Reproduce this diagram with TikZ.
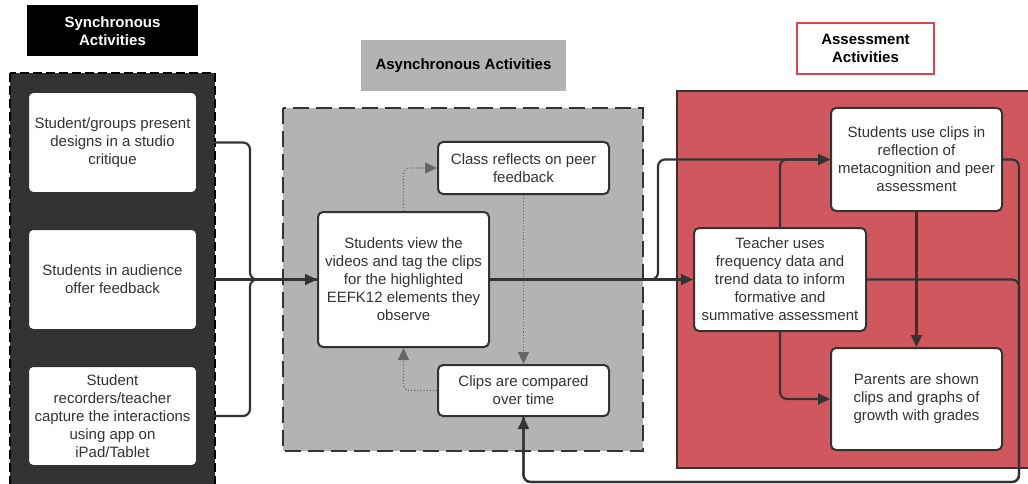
\documentclass[tikz,border=0pt]{standalone}
\usepackage{fontspec}
\setmainfont{Liberation Sans}
\usetikzlibrary{arrows.meta}
\definecolor{ink}{HTML}{333333}
\definecolor{grayfill}{HTML}{B3B3B3}
\definecolor{redfill}{HTML}{D1575F}
\definecolor{redline}{HTML}{D8454F}
\tikzset{
  box/.style={draw=ink, line width=2pt, fill=white, rounded corners=5pt, align=center,
    text=ink, font=\fontsize{15}{18}\selectfont, inner sep=2pt},
  ttl/.style={align=center, font=\bfseries\fontsize{15}{18}\selectfont, inner sep=2pt},
  conn/.style={draw=ink, line width=2.2pt, rounded corners=7pt},
  arr/.style={conn, -{Triangle[length=12pt,width=11pt]}},
  dot/.style={draw=ink!75, line width=1.1pt, dotted, rounded corners=6pt, -{Triangle[length=12pt,width=11pt]}},
}
\begin{document}
\begin{tikzpicture}[x=1pt,y=-1pt]
\useasboundingbox (0,0) rectangle (1028,484);
\clip (0,0) rectangle (1028,484);
% containers
\draw[fill=ink, draw=black, line width=1.4pt, dash pattern=on 9pt off 4pt] (10,73) rectangle (215,495);
\draw[fill=grayfill, draw=ink, line width=2pt, dash pattern=on 16pt off 7pt] (283,108) rectangle (643,451);
\draw[fill=redfill, draw=ink, line width=1.4pt] (677,91) rectangle (1040,468);
% titles
\node[ttl, fill=black, text=white, minimum width=171pt, minimum height=51pt] (syncT) at (112.5,31) {Synchronous\\Activities};
\node[ttl, fill=grayfill, text=black, minimum width=205pt, minimum height=51pt] (asyncT) at (463.5,65.5) {Asynchronous Activities};
\node[ttl, fill=white, draw=redline, line width=1.4pt, text=black, minimum width=137pt, minimum height=51pt] (assT) at (865.5,48.5) {Assessment\\Activities};
% sync boxes
\node[box, minimum width=169pt, minimum height=101pt] (s1) at (112.5,142.5) {Student/groups present\\designs in a studio\\critique};
\node[box, minimum width=169pt, minimum height=101pt] (s2) at (112.5,279.5) {Students in audience\\offer feedback};
\node[box, minimum width=169pt, minimum height=100pt] (s3) at (112.5,416) {Student\\recorders/teacher\\capture the interactions\\using app on\\iPad/Tablet};
% async boxes
\node[box, minimum width=171pt, minimum height=135pt] (main) at (403.5,279.5) {Students view the\\videos and tag the clips\\for the highlighted\\EEFK12 elements they\\observe};
\node[box, minimum width=171pt, minimum height=52pt] (cr) at (523.5,168) {Class reflects on peer\\feedback};
\node[box, minimum width=171pt, minimum height=51pt] (cc) at (523.5,390.5) {Clips are compared\\over time};
% assessment boxes
\node[box, minimum width=171pt, minimum height=103pt] (su) at (916.5,159.5) {Students use clips in\\reflection of\\metacognition and peer\\assessment};
\node[box, minimum width=172pt, minimum height=103pt] (tu) at (780,279.5) {Teacher uses\\frequency data and\\trend data to inform\\formative and\\summative assessment};
\node[box, minimum width=171pt, minimum height=102pt] (pa) at (916.5,399) {Parents are shown\\clips and graphs of\\growth with grades};
% junction coordinates
\coordinate (brk) at (250,279.5);
\coordinate (spl) at (658,279.5);
\coordinate (lp) at (1019,482);
% sync -> main
\draw[conn] (s1.east) -| (brk) -- (main.west);
\draw[conn] (s3.east) -| (brk) -- (main.west);
\draw[arr] (s2.east) -- (main.west);
% dotted loop
\draw[dot] (main.north) |- (cr.west);
\draw[dot] (cr.south) -- (cc.north);
\draw[dot] (cc.west) -| (main.south);
% main -> assessment
\draw[arr] (main.east) -- (tu.west);
\draw[arr] (main.east) -- (spl) |- (su.west);
\draw[arr] (tu.north) |- (su.west);
\draw[arr] (tu.south) |- (pa.west);
\draw[arr] (su.south) -- (pa.north);
% feedback loop to clips compared
\draw[conn] (tu.east) -| (lp) -| (cc.south);
\draw[arr] (su.east) -| (lp) -| (cc.south);
\end{tikzpicture}
\end{document}
